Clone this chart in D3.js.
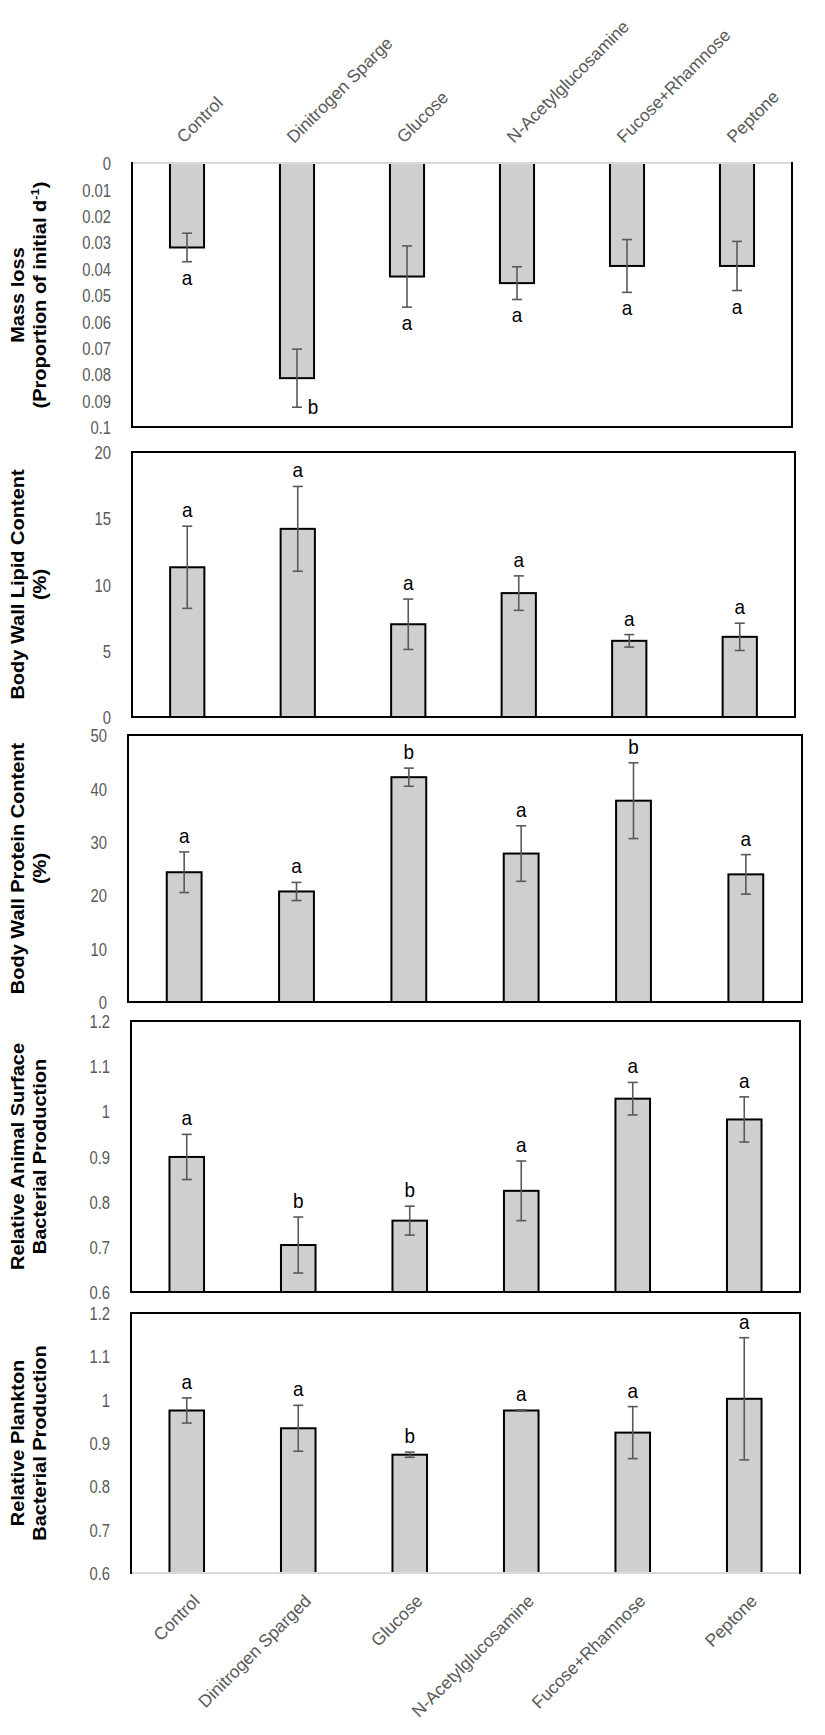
<!DOCTYPE html>
<html>
<head>
<meta charset="utf-8">
<script src="https://cdn.jsdelivr.net/npm/d3@7"></script>
<style>
  body { margin: 0; background: #fff; }
</style>
</head>
<body>
<div id="chart"></div>
<script>
// Treatments (bottom axis) and the slightly different labels printed above the top panel
var categories = ["Control", "Dinitrogen Sparged", "Glucose", "N-Acetylglucosamine", "Fucose+Rhamnose", "Peptone"];
var topLabels = ["Control", "Dinitrogen Sparge", "Glucose", "N-Acetylglucosamine", "Fucose+Rhamnose", "Peptone"];

// Mass loss (proportion of initial per day)
var massLoss = [0.032, 0.0815, 0.043, 0.0455, 0.039, 0.039];
var massLossErr = [0.0054, 0.011, 0.0116, 0.0062, 0.010, 0.0093];
var massLossLetters = ["a", "b", "a", "a", "a", "a"];
var massLossTicks = [0, 0.01, 0.02, 0.03, 0.04, 0.05, 0.06, 0.07, 0.08, 0.09, 0.1];

// Body wall lipid content (%)
var lipid = [11.3, 14.2, 7.0, 9.35, 5.75, 6.05];
var lipidErr = [3.1, 3.2, 1.9, 1.3, 0.47, 1.03];
var lipidLetters = ["a", "a", "a", "a", "a", "a"];
var lipidTicks = [0, 5, 10, 15, 20];

// Body wall protein content (%)
var protein = [24.3, 20.7, 42.1, 27.8, 37.7, 23.9];
var proteinErr = [3.8, 1.7, 1.7, 5.2, 7.1, 3.7];
var proteinLetters = ["a", "a", "b", "a", "b", "a"];
var proteinTicks = [0, 10, 20, 30, 40, 50];

// Relative animal surface bacterial production
var surfaceBP = [0.899, 0.704, 0.758, 0.824, 1.028, 0.982];
var surfaceBPErr = [0.05, 0.062, 0.032, 0.066, 0.036, 0.05];
var surfaceBPLetters = ["a", "b", "b", "a", "a", "a"];

// Relative plankton bacterial production
var planktonBP = [0.975, 0.934, 0.873, 0.975, 0.924, 1.002];
var planktonBPErr = [0.029, 0.053, 0.006, 0.0015, 0.06, 0.141];
var planktonBPLetters = ["a", "a", "b", "a", "a", "a"];

var relTicks = [0.6, 0.7, 0.8, 0.9, 1.0, 1.1, 1.2];

var svgWidth = 825;
var svgHeight = 1735;

var svg = d3.select("#chart")
            .append("svg")
            .attr("width", svgWidth)
            .attr("height", svgHeight)
            .style("display", "block")
            .style("background", "#fff");

var textFont = "'Liberation Sans', Arial, sans-serif";
var grey = "#595959";

// Panel layout (pixel boxes) plus the data for each
var panels = [
  { title: ["Mass loss", "(Proportion of initial d", "-1", ")"], values: massLoss, errs: massLossErr,
    letters: massLossLetters, ticks: massLossTicks, domain: [0, 0.1], reversed: true,
    left: 132, right: 792, top: 163, bottom: 427, greyTop: true },
  { title: ["Body Wall Lipid Content", "(%)"], values: lipid, errs: lipidErr,
    letters: lipidLetters, ticks: lipidTicks, domain: [0, 20],
    left: 132, right: 795, top: 452, bottom: 717 },
  { title: ["Body Wall Protein Content", "(%)"], values: protein, errs: proteinErr,
    letters: proteinLetters, ticks: proteinTicks, domain: [0, 50],
    left: 128, right: 802, top: 735, bottom: 1002 },
  { title: ["Relative Animal Surface", "Bacterial Production"], values: surfaceBP, errs: surfaceBPErr,
    letters: surfaceBPLetters, ticks: relTicks, domain: [0.6, 1.2],
    left: 131, right: 800, top: 1021, bottom: 1292 },
  { title: ["Relative Plankton", "Bacterial Production"], values: planktonBP, errs: planktonBPErr,
    letters: planktonBPLetters, ticks: relTicks, domain: [0.6, 1.2],
    left: 131, right: 800, top: 1313, bottom: 1573, greyBottom: true }
];

panels.forEach(function(p, pi) {
  var g = svg.append("g");

  var x = d3.scaleBand()
            .domain(categories)
            .range([p.left, p.right])
            .paddingInner(0.69)
            .paddingOuter(0.345);

  var y = d3.scaleLinear()
            .domain(p.domain)
            .range(p.reversed ? [p.top, p.bottom] : [p.bottom, p.top]);

  var rows = categories.map(function(c, i) {
    return { cat: c, v: p.values[i], e: p.errs[i], letter: p.letters[i] };
  });

  // y axis labels only (Excel style, no tick marks); the original uses a condensed face
  var axis = d3.axisLeft(y)
               .tickValues(p.ticks)
               .tickSize(0)
               .tickPadding(0)
               .tickFormat(function(d) { return String(+d.toFixed(2)); });
  var axisG = g.append("g")
               .attr("transform", "translate(" + (p.left - 21) + ",0)")
               .call(axis);
  axisG.select(".domain").remove();
  axisG.selectAll("text")
       .attr("x", 0)
       .attr("dy", "0.35em")
       .attr("transform", "scale(0.78,1)")
       .style("font-family", textFont)
       .style("font-size", "19px")
       .attr("fill", grey);

  // bars
  var base = y(p.domain[0]);
  g.selectAll("rect.bar")
   .data(rows)
   .enter()
   .append("rect")
   .attr("class", "bar")
   .attr("x", function(d) { return x(d.cat); })
   .attr("width", x.bandwidth())
   .attr("y", function(d) { return Math.min(y(d.v), base); })
   .attr("height", function(d) { return Math.abs(y(d.v) - base); })
   .attr("fill", "#d0cfcf")
   .attr("stroke", "#000")
   .attr("stroke-width", 2);

  // error bars
  var eb = g.selectAll("g.err")
            .data(rows)
            .enter()
            .append("g")
            .attr("class", "err")
            .attr("stroke", grey)
            .attr("stroke-width", 1.6);
  var cx = function(d) { return x(d.cat) + x.bandwidth() / 2; };
  eb.append("line")
    .attr("x1", cx).attr("x2", cx)
    .attr("y1", function(d) { return y(d.v - d.e); })
    .attr("y2", function(d) { return y(d.v + d.e); });
  [-1, 1].forEach(function(s) {
    eb.append("line")
      .attr("x1", function(d) { return cx(d) - 5; })
      .attr("x2", function(d) { return cx(d) + 5; })
      .attr("y1", function(d) { return y(d.v + s * d.e); })
      .attr("y2", function(d) { return y(d.v + s * d.e); });
  });

  // significance letters
  g.selectAll("text.letter")
   .data(rows)
   .enter()
   .append("text")
   .attr("class", "letter")
   .text(function(d) { return d.letter; })
   .attr("text-anchor", "middle")
   .style("font-family", textFont)
   .style("font-size", "21px")
   .attr("fill", "#000")
   .attr("transform", function(d) {
     var lx, ly;
     if (p.reversed) {
       var yb = y(d.v + d.e);
       if (yb + 24 > p.bottom) {
         lx = cx(d) + 16; ly = yb + 7;
       } else {
         lx = cx(d); ly = yb + 23;
       }
     } else {
       lx = cx(d); ly = y(d.v + d.e) - 9;
     }
     return "translate(" + lx + "," + ly + ") scale(0.9,1)";
   });

  // frame
  var frame = [
    { x1: p.left, y1: p.top, x2: p.right, y2: p.top, c: p.greyTop ? "#d9d9d9" : "#000" },
    { x1: p.left, y1: p.bottom, x2: p.right, y2: p.bottom, c: p.greyBottom ? "#d9d9d9" : "#000" },
    { x1: p.left, y1: p.top, x2: p.left, y2: p.bottom, c: "#000" },
    { x1: p.right, y1: p.top, x2: p.right, y2: p.bottom, c: "#000" }
  ];
  g.selectAll("line.frame")
   .data(frame)
   .enter()
   .append("line")
   .attr("class", "frame")
   .attr("x1", function(d) { return d.x1; })
   .attr("y1", function(d) { return d.y1; })
   .attr("x2", function(d) { return d.x2; })
   .attr("y2", function(d) { return d.y2; })
   .attr("stroke", function(d) { return d.c; })
   .attr("stroke-width", 2)
   .attr("stroke-linecap", "square");

  // y title, two lines
  var midY = (p.top + p.bottom) / 2;
  var title = g.append("text")
               .attr("transform", "translate(18," + midY + ") scale(0.9,1) rotate(-90)")
               .attr("text-anchor", "middle")
               .style("font-family", textFont)
               .style("font-size", "20px")
               .style("font-weight", "bold")
               .attr("fill", "#000");
  title.append("tspan").attr("x", 0).attr("dy", "0.35em").text(p.title[0]);
  title.append("tspan").attr("x", 0).attr("dy", 24).text(p.title[1]);
  if (p.title.length > 2) {
    title.append("tspan").attr("dy", -8).style("font-size", "13px").text(p.title[2]);
    title.append("tspan").attr("dy", 8).text(p.title[3]);
  }

  // category labels: top of first panel, bottom of last
  if (pi === 0) {
    g.selectAll("text.toplab")
     .data(topLabels)
     .enter()
     .append("text")
     .attr("class", "toplab")
     .attr("transform", function(d, i) {
       return "translate(" + (x(categories[i]) + x.bandwidth() / 2 - 3) + "," + (p.top - 19) + ") rotate(-45)";
     })
     .attr("text-anchor", "start")
     .style("font-family", textFont)
     .style("font-size", "17.5px")
     .attr("fill", grey)
     .text(function(d) { return d; });
  }
  if (pi === panels.length - 1) {
    g.selectAll("text.botlab")
     .data(categories)
     .enter()
     .append("text")
     .attr("class", "botlab")
     .attr("transform", function(d) {
       return "translate(" + (x(d) + x.bandwidth() / 2 + 14) + "," + (p.bottom + 29) + ") rotate(-45)";
     })
     .attr("text-anchor", "end")
     .style("font-family", textFont)
     .style("font-size", "17.5px")
     .attr("fill", grey)
     .text(function(d) { return d; });
  }
});
</script>
</body>
</html>
